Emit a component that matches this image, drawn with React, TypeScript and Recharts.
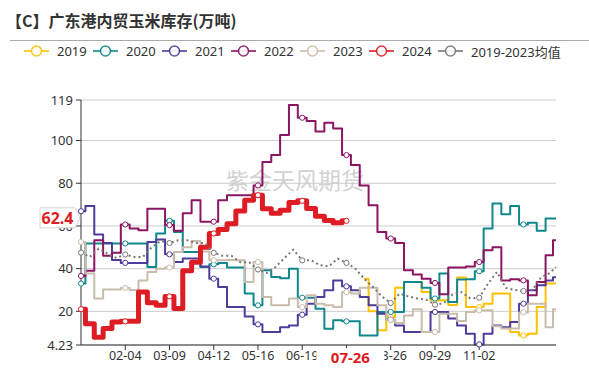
import React from 'react';
import { LineChart, Line, XAxis, YAxis, CartesianGrid, ReferenceLine } from 'recharts';

// x axis: day of year (0 = 01-01), one sample every 6.8 days (5 samples per tick)
const tickDays = [34, 68, 102, 136, 170, 204, 238, 272, 306];
const tickLabels = ['02-04', '03-09', '04-12', '05-16', '06-19', '07-23', '08-26', '09-29', '11-02'];
const yTicks = [4.23, 20, 40, 60, 80, 100, 119];

// 2019 starts at sample 32
const start2019 = 32;
const v2019 = [35.3, 20, 11.1, 17.3, 31, 33.8, 33.8, 29, 25.2, 25.2, 23, 35.8, 22, 22, 23.6, 28.3, 28.3, 10.3, 8.7, 9.5, 22, 33, 33];
const v2020 = [33, 51.8, 51.8, 51.8, 51.8, 51.8, 51.8, 51.8, 40.8, 56.5, 62.4, 57.2, 47.8, 47.8, 40.8, 42, 42.7, 40.5, 40.5, 28.3, 22.8, 39.2, 36.1, 35.5, 40, 26.4, 26.4, 21.2, 11.9, 15.8, 15.3, 15.3, 8.7, 8.7, 19.7, 19.7, 19.7, 33.8, 33.8, 31, 26, 37.7, 24.4, 34.9, 35, 38.8, 58.8, 70.5, 65.5, 69.4, 60.7, 61.5, 57.7, 63.5, 63.5];
const v2021 = [66.9, 69.3, 56, 52, 44, 42.7, 42.7, 42.7, 52.5, 53.6, 46.7, 43.1, 44.7, 44.7, 41, 35.3, 31.4, 22, 22, 17.6, 13.9, 10.3, 10.3, 12.6, 13.4, 18.4, 23.6, 26.7, 29.9, 34.5, 31.7, 29.9, 26.7, 22.8, 18.9, 16.1, 13.4, 10.3, 10.3, 10.3, 19.7, 19.7, 16.6, 13.4, 9.5, 4.5, 9.5, 13.4, 12.6, 15, 23.6, 29.9, 32.2, 34.5, 36];
const v2022 = [36.6, 39, 53.3, 46, 47.5, 60.7, 58.8, 58, 68, 68, 60.4, 57.7, 66, 72, 62, 62, 72, 74.4, 74.4, 74.4, 79, 90, 93.2, 102.6, 116.7, 110.7, 109.2, 104.2, 108.4, 105.7, 93.2, 88.5, 79, 69.7, 57.2, 54.1, 52, 39.2, 37.2, 35.3, 33.3, 28, 40.5, 40.5, 41, 43.1, 48.6, 50, 34.5, 35, 34.5, 27.5, 33.8, 46.3, 53.3];
const v2023 = [52.5, 37.7, 26, 30.2, 30.2, 30.9, 30, 34.5, 38.4, 40, 40.5, 47.8, 50, 53, 48, 43.9, 43.9, 44, 43.9, 33.8, 43.1, 26.7, 22.8, 22.8, 26, 22, 27.5, 23.6, 22.8, 22, 29, 28.3, 31, 31, 22.8, 16, 14.5, 18, 21, 10.3, 10.3, 18.9, 18.9, 15.5, 19.7, 20.5, 20.5, 13, 12, 12, 19.5, 23.6, 23.6, 12.6, 21];
const v2024 = [21, 14.2, 7.9, 12, 15, 15.3, 15.3, 29, 24, 22.8, 27, 21.3, 39, 43, 50, 56.5, 58.3, 61, 67, 72, 74.4, 68, 66, 67.4, 71, 71.8, 68.2, 64.5, 62.5, 61.5, 62.4];
const vAvg = [47.5, 45.5, 49.4, 47, 45, 46.6, 45.5, 45.5, 50, 53, 52, 53.3, 53.3, 52, 52, 47.4, 46, 46, 43, 43, 39.6, 38, 40.8, 45, 48.9, 43.9, 44, 41.6, 41, 44.7, 42.7, 40, 35.3, 31.4, 27, 23.9, 28.3, 27, 26, 25.5, 23.1, 23.8, 28, 29, 26, 26.4, 33, 38.4, 31, 30, 29.5, 30, 36, 38, 40.8];

const lastValue = 62.4;
const lastDay = 207;
const lastLabel = '07-26';

const series = [
  { key: 's2019', name: '2019', color: '#FFC000', width: 2 },
  { key: 's2020', name: '2020', color: '#0F878C', width: 2 },
  { key: 's2021', name: '2021', color: '#4F3B9B', width: 2 },
  { key: 's2022', name: '2022', color: '#8B1563', width: 2 },
  { key: 's2023', name: '2023', color: '#C9BCAA', width: 2 },
  { key: 's2024', name: '2024', color: '#DD1C24', width: 5 },
  { key: 'avg', name: '2019-2023均值', color: '#777777', width: 2, dashed: true },
];

const data = vAvg.map((avg, i) => ({
  day: Math.min(i * 6.8, 365),
  s2019: i >= start2019 ? v2019[i - start2019] : null,
  s2020: v2020[i],
  s2021: v2021[i],
  s2022: v2022[i],
  s2023: v2023[i],
  s2024: i < v2024.length ? v2024[i] : null,
  avg,
}));

const FONT = "'Noto Sans', 'Noto Sans CJK SC', sans-serif";
const W = 589;
const H = 370;
const margin = { top: 100, right: 33, bottom: 0, left: 8 };

const makeDot = (color: string) => (props: any) => {
  const { cx, cy, index, value } = props;
  if (cx == null || cy == null || value == null || index % 5 !== 0) return <g key={`n${index}`} />;
  return <circle key={`d${index}`} cx={cx} cy={cy} r={2.6} fill="#fff" stroke={color} strokeWidth={1} />;
};

const YTag = (props: any) => {
  const { viewBox } = props;
  const tip = viewBox.x - 1;
  const yc = viewBox.y - 3;
  const x0 = tip - 40;
  const x1 = tip - 5;
  return (
    <g>
      <path
        d={`M${x0},${yc - 10} H${x1} L${tip},${yc} L${x1},${yc + 10} H${x0} Z`}
        fill="#fff"
        stroke="#d6d6d6"
        strokeWidth={1}
      />
      <text x={(x0 + x1) / 2} y={yc} dy="0.36em" textAnchor="middle" fill="#DD1C24" fontSize={16} fontWeight="bold" fontFamily={FONT}>
        {lastValue}
      </text>
    </g>
  );
};

const XTag = (props: any) => {
  const { viewBox } = props;
  const cx = viewBox.x;
  const top = viewBox.y + viewBox.height + 3;
  return (
    <g>
      <rect x={cx - 34} y={top} width={68} height={20} fill="#fff" />
      <text x={cx} y={top + 10} dy="0.36em" textAnchor="middle" fill="#DD1C24" fontSize={15} fontWeight="bold" fontFamily={FONT}>
        {lastLabel}
      </text>
    </g>
  );
};

const LegendIcon = ({ color }: { color: string }) => (
  <svg width={25} height={14} style={{ display: 'block', flexShrink: 0 }}>
    <line x1={0} y1={7} x2={25} y2={7} stroke={color} strokeWidth={2} opacity={0.8} />
    <circle cx={12.5} cy={7} r={5} fill="#fff" stroke={color} strokeWidth={1.5} opacity={0.9} />
  </svg>
);

export default function App() {
  return (
    <div style={{ position: 'absolute', left: 0, top: 0, width: W, height: H, background: '#fff', fontFamily: FONT }}>
      <div style={{ position: 'absolute', left: 6, top: 9, fontSize: 16, fontWeight: 'bold', color: '#333', fontFamily: "'Noto Sans CJK SC', sans-serif", lineHeight: '22px' }}>
        【C】广东港内贸玉米库存(万吨)
      </div>
      <div style={{ position: 'absolute', left: 10, right: 0, top: 40, borderTop: '1px solid #aaa' }} />
      <div style={{ position: 'absolute', left: 24, top: 43, display: 'flex', height: 16 }}>
        {series.map((s) => (
          <div key={s.key} style={{ display: 'flex', alignItems: 'center', minWidth: 69, whiteSpace: 'nowrap' }}>
            <LegendIcon color={s.color} />
            <span style={{ marginLeft: 8, fontSize: 13, color: '#333' }}>{s.name}</span>
          </div>
        ))}
      </div>
      <div style={{ position: 'absolute', left: 226, top: 162, fontSize: 23, color: '#d2d2d2', fontFamily: "'Noto Sans CJK SC', sans-serif" }}>
        紫金天风期货
      </div>
      <div style={{ position: 'absolute', left: 0, top: 0 }}>
        <LineChart width={W} height={H} data={data} margin={margin}>
          <CartesianGrid vertical={false} stroke="#cccccc" />
          <XAxis
            type="number"
            dataKey="day"
            domain={[0, 365]}
            ticks={tickDays}
            interval={0}
            tickFormatter={(d: number) => tickLabels[tickDays.indexOf(d)]}
            height={25}
            tickSize={5}
            tickMargin={1}
            stroke="#333"
            tick={{ fill: '#333', fontSize: 12.5, fontFamily: FONT }}
          />
          <YAxis
            type="number"
            domain={[4.23, 119]}
            ticks={yTicks}
            interval={0}
            width={73}
            tickSize={5}
            tickMargin={3}
            stroke="#333"
            tick={{ fill: '#333', fontSize: 13, fontFamily: FONT }}
          />
          {series.map((s) => (
            <Line
              key={s.key}
              dataKey={s.key}
              name={s.name}
              type={s.dashed ? 'linear' : 'step'}
              stroke={s.color}
              strokeWidth={s.width}
              strokeDasharray={s.dashed ? '2 3' : undefined}
              strokeLinejoin="round"
              dot={makeDot(s.color)}
              activeDot={false}
              isAnimationActive={false}
            />
          ))}
        </LineChart>
      </div>
      {/* pointer tags on a second chart with the same scales, drawn on top so they cover the tick labels */}
      <div style={{ position: 'absolute', left: 0, top: 0 }}>
        <LineChart width={W} height={H} data={data} margin={margin}>
          <XAxis type="number" dataKey="day" domain={[0, 365]} height={25} tick={false} axisLine={false} tickLine={false} />
          <YAxis type="number" domain={[4.23, 119]} width={73} tick={false} axisLine={false} tickLine={false} />
          <Line dataKey="s2024" stroke="none" dot={false} activeDot={false} isAnimationActive={false} />
          <ReferenceLine y={lastValue} stroke="none" label={{ content: (p: any) => <YTag {...p} /> }} />
          <ReferenceLine x={lastDay} stroke="none" label={{ content: (p: any) => <XTag {...p} /> }} />
        </LineChart>
      </div>
    </div>
  );
}
